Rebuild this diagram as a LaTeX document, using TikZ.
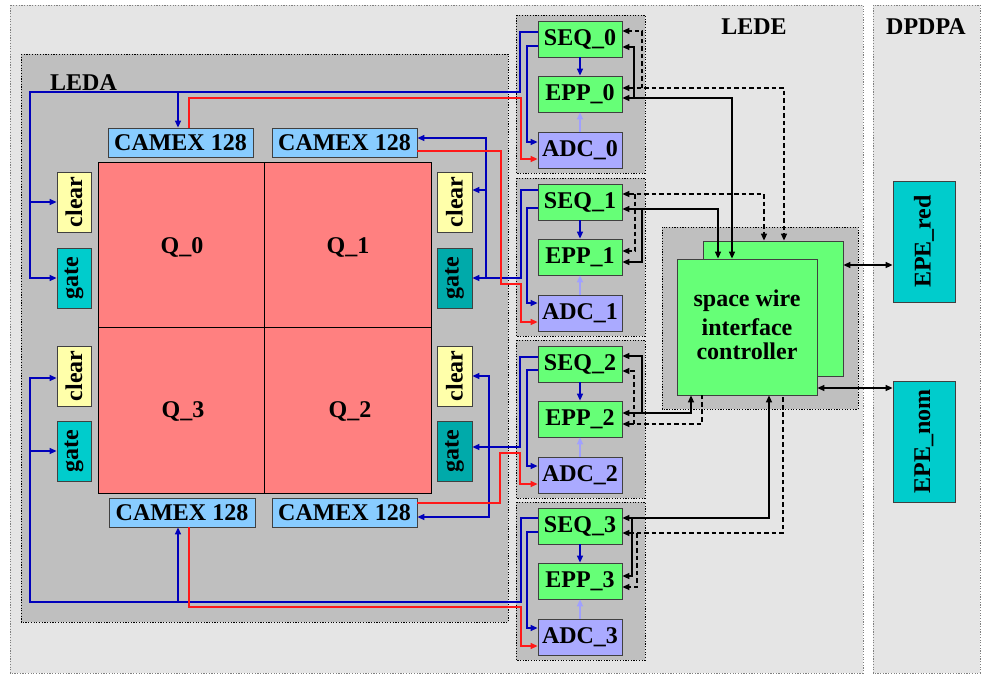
\documentclass[tikz,border=0pt]{standalone}
\usepackage{fontspec}
\setmainfont{Liberation Serif}
\usepackage{graphicx}
\usetikzlibrary{arrows.meta}
\definecolor{panel}{RGB}{229,229,229}
\definecolor{inner}{RGB}{191,191,191}
\definecolor{grn}{RGB}{102,255,119}
\definecolor{adc}{RGB}{170,170,255}
\definecolor{cam}{RGB}{136,204,255}
\definecolor{clr}{RGB}{255,255,170}
\definecolor{gateA}{RGB}{0,204,204}
\definecolor{gateB}{RGB}{0,170,170}
\definecolor{quad}{RGB}{255,128,128}
\definecolor{bluec}{RGB}{0,0,187}
\definecolor{redc}{RGB}{255,25,25}
\definecolor{lblue}{RGB}{160,160,255}
\definecolor{bord}{RGB}{64,64,64}
\begin{document}
\begin{tikzpicture}[x=1pt,y=-1pt,
  font=\fontsize{24}{24}\selectfont\bfseries,
  >={Triangle[length=7pt,width=6pt]},
  outerbox/.style={fill=panel,draw=gray,line width=0.8pt,dash pattern=on 1.2pt off 1.5pt},
  grpbox/.style={fill=inner,draw=black,line width=0.7pt,dash pattern=on 1.2pt off 1.5pt},
  blk/.style={draw=bord,line width=0.8pt,inner sep=0pt},
  unitbox/.style={blk,fill=grn,minimum width=84pt,minimum height=36pt},
  adcbox/.style={blk,fill=adc,minimum width=84pt,minimum height=36pt},
  cambox/.style={blk,fill=cam,minimum width=145pt,minimum height=29pt},
  clrbox/.style={blk,fill=clr,minimum width=34pt,minimum height=60pt},
  gatebox/.style={blk,minimum width=34pt,minimum height=60pt},
  quadbox/.style={draw=black,line width=0.8pt,fill=quad,inner sep=0pt},
  epebox/.style={blk,fill=gateA,minimum width=62pt,minimum height=121pt},
  bl/.style={draw=bluec,line width=1.3pt},
  rd/.style={draw=redc,line width=1.3pt},
  lb/.style={draw=lblue,line width=1.6pt},
  sol/.style={draw=black,line width=1.5pt},
  dsh/.style={draw=black,line width=1.4pt,dash pattern=on 4.5pt off 3pt}
]
\useasboundingbox (0,0) rectangle (983,675);
% panels
\draw[outerbox] (10,5) rectangle (863,673);
\draw[outerbox] (873,5) rectangle (980,673);
\draw[grpbox] (21,54) rectangle (508,622);
\foreach \y in {21,184,346,508} \draw[grpbox] (516,\y-6) rectangle (645,\y+152);
\draw[grpbox] (662,227) rectangle (858,409);
% titles
\node[anchor=base west,inner sep=0pt] (ledaL) at (50,90) {LEDA};
\node[inner sep=0pt] (ledeL) at (754,27) {LEDE};
\node[inner sep=0pt] (dpdpaL) at (926,27) {DPDPA};
% quadrants
\node[quadbox,minimum width=166pt,minimum height=165pt] (Q0) at (181,244.5) {};
\node[quadbox,minimum width=167pt,minimum height=165pt] (Q1) at (347.5,244.5) {};
\node[quadbox,minimum width=166pt,minimum height=166pt] (Q3) at (181,410) {};
\node[quadbox,minimum width=167pt,minimum height=166pt] (Q2) at (347.5,410) {};
\node (q0t) at (182,247) {Q\_0};
\node (q1t) at (348,247) {Q\_1};
\node (q3t) at (183,411) {Q\_3};
\node (q2t) at (350,411) {Q\_2};
% CAMEX
\node[cambox] (camTL) at (180.5,142.5) {CAMEX 128};
\node[cambox] (camTR) at (344.5,142.5) {CAMEX 128};
\node[cambox,minimum width=146pt] (camBL) at (182,512.5) {CAMEX 128};
\node[cambox] (camBR) at (344.5,512.5) {CAMEX 128};
% clear / gate
\node[clrbox] (clearL0) at (74,202) {\rotatebox{90}{clear}};
\node[gatebox,fill=gateA] (gateL0) at (74,278) {\rotatebox{90}{gate}};
\node[clrbox] (clearL1) at (74,376) {\rotatebox{90}{clear}};
\node[gatebox,fill=gateA] (gateL1) at (74,451) {\rotatebox{90}{gate}};
\node[clrbox,minimum width=35pt] (clearR0) at (454.5,202) {\rotatebox{90}{clear}};
\node[gatebox,fill=gateB,minimum width=35pt] (gateR0) at (454.5,278) {\rotatebox{90}{gate}};
\node[clrbox,minimum width=35pt] (clearR1) at (454.5,376) {\rotatebox{90}{clear}};
\node[gatebox,fill=gateB,minimum width=35pt] (gateR1) at (454.5,451) {\rotatebox{90}{gate}};
% SEQ / EPP / ADC
\foreach \k/\y in {0/21,1/184,2/346,3/508}{
  \node[unitbox] (SEQ\k) at (580,\y+18) {SEQ\_\k};
  \node[unitbox] (EPP\k) at (580,\y+73) {EPP\_\k};
  \node[adcbox] (ADC\k) at (580,\y+129) {ADC\_\k};
  \draw[bl,->] (SEQ\k.south) -- (EPP\k.north);
  \draw[lb,->] (ADC\k.north) -- (EPP\k.south);
}
% space wire controller
\node[blk,fill=grn,minimum width=140pt,minimum height=135pt] (back) at (773,308.5) {};
\node[blk,fill=grn,minimum width=140pt,minimum height=136pt,align=center] (front) at (747,327) {};
\node[align=center,inner sep=0pt] (frontT) at (747,325) {space wire\\[5pt]interface\\controller};
% EPE
\node[epebox] (EPEred) at (924,241.5) {\rotatebox{90}{EPE\_red}};
\node[epebox] (EPEnom) at (924,441.5) {\rotatebox{90}{EPE\_nom}};
% ---- blue / red connectors, group 0 (Q_0 side)
\draw[bl,->] ([yshift=7pt]SEQ0.west) -| (520,92) -- (30,92) |- (gateL0.west);
\draw[bl,->] (30,202) -- (clearL0.west);
\draw[bl,->] (178,92) -- ([xshift=-2.5pt]camTL.north);
\draw[bl,->] ([yshift=-7pt]SEQ0.west) -| (527,142) -- ([yshift=8pt]ADC0.west);
\draw[rd,->] ([xshift=8.5pt]camTL.north) |- (521,98) |- ([yshift=-9pt]ADC0.west);
% group 1
\draw[bl,->] ([yshift=12pt]SEQ1.west) -| (521,278) -- (gateR0.east);
\draw[bl,->] (486,278) |- ([yshift=4.5pt]camTR.east);
\draw[bl,->] (486,190) -- ([yshift=12pt]clearR0.east);
\draw[bl,->] ([yshift=-6pt]SEQ1.west) -| (527,303) -- ([yshift=10pt]ADC1.west);
\draw[rd,->] ([yshift=-8.5pt]camTR.east) -| (501,284) -| (521,322) -- ([yshift=-9pt]ADC1.west);
% group 2
\draw[bl,->] ([yshift=7pt]SEQ2.west) -| (520,447) -- ([yshift=4pt]gateR1.east);
\draw[bl,->] (489,447) |- (clearR1.east);
\draw[bl,->] (489,447) |- ([yshift=-4.5pt]camBR.east);
\draw[bl,->] ([yshift=-6pt]SEQ2.west) -| (527,466) -- ([yshift=9pt]ADC2.west);
\draw[rd,->] ([yshift=9.5pt]camBR.east) -| (500,453) -| (520,484) -- ([yshift=-9pt]ADC2.west);
% group 3
\draw[bl,->] ([yshift=8pt]SEQ3.west) -| (521,602) -- (30,602) |- ([yshift=-2pt]clearL1.west);
\draw[bl,->] (30,451) -- (gateL1.west);
\draw[bl,->] (178,602) -- ([xshift=-4pt]camBL.south);
\draw[bl,->] ([yshift=-6pt]SEQ3.west) -| (527,628) -- ([yshift=9pt]ADC3.west);
\draw[rd,->] ([xshift=7pt]camBL.south) |- (521,607) |- ([yshift=-9pt]ADC3.west);
% ---- black connectors to controller
% group 0
\draw[dsh,<->] ([yshift=6pt]EPP0.east) -| ([xshift=11pt]back.north);
\draw[dsh,->] (642,88) |- ([yshift=8pt]SEQ0.east);
\draw[sol,<->] ([yshift=-4pt]EPP0.east) -| ([xshift=-15pt]front.north);
\draw[sol,->] (634,98) |- ([yshift=-8pt]SEQ0.east);
% group 1
\draw[dsh,<->] ([yshift=8pt]SEQ1.east) -| ([xshift=-9pt]back.north);
\draw[dsh,->] (635,194) |- ([yshift=6pt]EPP1.east);
\draw[sol,<->] ([yshift=-7pt]SEQ1.east) -| ([xshift=-29pt]front.north);
\draw[sol,->] (642,209) |- ([yshift=-5pt]EPP1.east);
% group 2
\draw[sol,<->] ([yshift=6pt]EPP2.east) -| ([xshift=-56pt]front.south);
\draw[sol,->] (642,413) |- ([yshift=8pt]SEQ2.east);
\draw[dsh,<-] ([yshift=-5pt]EPP2.east) -| ([xshift=-45pt]front.south);
\draw[dsh,->] (634,424) |- ([yshift=-7pt]SEQ2.east);
% group 3
\draw[sol,<->] ([yshift=8pt]SEQ3.east) -| ([xshift=22pt]front.south);
\draw[sol,->] (632,518) |- ([yshift=5pt]EPP3.east);
\draw[dsh,<-] ([yshift=-7pt]SEQ3.east) -| ([xshift=36pt]front.south);
\draw[dsh,->] (637,533) |- ([yshift=-6pt]EPP3.east);
% EPE links
\draw[sol,<->] ([yshift=43.5pt]back.east) -- ([yshift=-23.5pt]EPEred.west);
\draw[sol,<->] ([yshift=-61pt]front.east) -- ([yshift=53.5pt]EPEnom.west);
\end{tikzpicture}
\end{document}
